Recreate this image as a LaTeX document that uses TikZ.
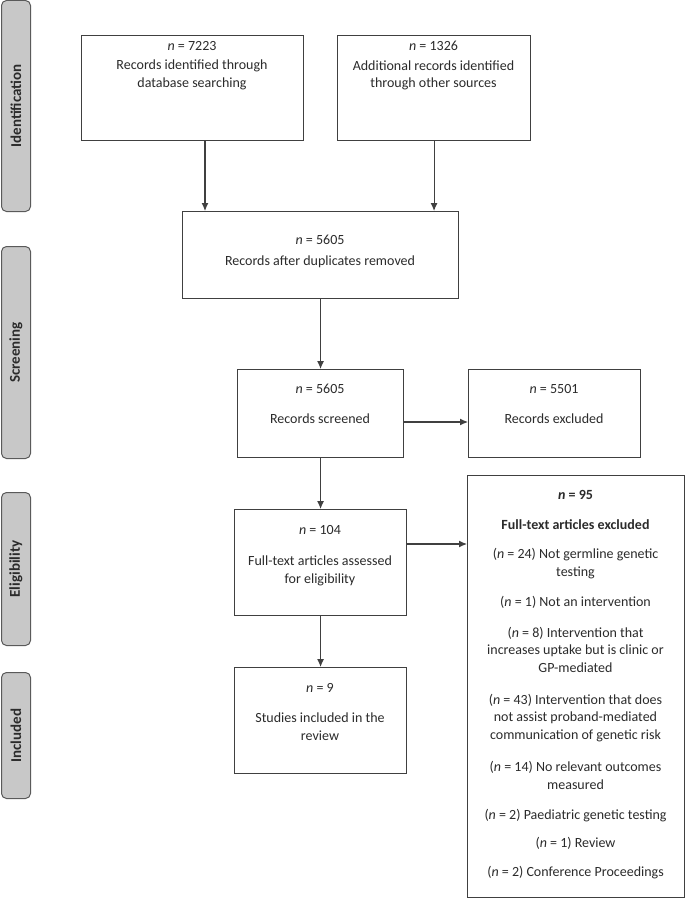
\documentclass[tikz,border=0pt]{standalone}
\usepackage{fontspec}
\setmainfont{Carlito}
\usetikzlibrary{arrows.meta}
\definecolor{linegray}{HTML}{404040}
\definecolor{textgray}{HTML}{2B2B2B}
\definecolor{barfill}{HTML}{C8C8C8}
\definecolor{barline}{HTML}{5A5A5A}
\begin{document}
\begin{tikzpicture}[x=1pt,y=-1pt,
  box/.style={draw=linegray, line width=1.1pt, fill=white, inner sep=0, anchor=north west},
  txt/.style={text=textgray, font=\fontsize{14}{17.5}\selectfont, align=center, inner sep=0, anchor=base},
  bold/.style={txt, font=\fontsize{14}{17.5}\selectfont\bfseries},
  bar/.style={draw=barline, line width=1pt, fill=barfill, rounded corners=5pt, anchor=north west, inner sep=0},
  barlabel/.style={text=textgray, font=\fontsize{15}{17}\selectfont\bfseries, rotate=90, inner sep=0},
  arr/.style={draw=linegray, line width=1.1pt, -{Latex[length=8pt,width=7pt]}}]
\useasboundingbox (0,0) rectangle (685,899);
% phase bars
\node[bar, minimum width=29pt, minimum height=211pt] (pid) at (1,0) {};
\node[barlabel] (lid) at (pid.center) {Identification};
\node[bar, minimum width=29pt, minimum height=212pt] (psc) at (1,246) {};
\node[barlabel] (lsc) at (psc.center) {Screening};
\node[bar, minimum width=29pt, minimum height=153pt] (pel) at (1,492) {};
\node[barlabel] (lel) at (pel.center) {Eligibility};
\node[bar, minimum width=29pt, minimum height=126pt] (pin) at (1,672) {};
\node[barlabel] (lin) at (pin.center) {Included};
% boxes
\node[box, minimum width=222pt, minimum height=105pt] (b1) at (81,35) {};
\node[box, minimum width=193pt, minimum height=105pt] (b2) at (337,35) {};
\node[box, minimum width=276pt, minimum height=87pt] (b3) at (182,211) {};
\node[box, minimum width=166pt, minimum height=88pt] (b4) at (237,369) {};
\node[box, minimum width=172pt, minimum height=88pt] (b5) at (468,369) {};
\node[box, minimum width=172pt, minimum height=106pt] (b6) at (234,509) {};
\node[box, minimum width=172pt, minimum height=106pt] (b7) at (234,667) {};
\node[box, minimum width=217pt, minimum height=422pt] (b8) at (467,475) {};
% texts (anchor = baseline of last line)
\node[txt] (t1a) at (192,51) {\textit{n} = 7223};
\node[txt] (t1b) at (192,87) {Records identified through\\database searching};
\node[txt] (t2a) at (433.5,51) {\textit{n} = 1326};
\node[txt] (t2b) at (433.5,88) {Additional records identified\\through other sources};
\node[txt] (t3a) at (320,244) {\textit{n} = 5605};
\node[txt] (t3b) at (320,265) {Records after duplicates removed};
\node[txt] (t4a) at (320,393) {\textit{n} = 5605};
\node[txt] (t4b) at (320,423) {Records screened};
\node[txt] (t5a) at (554,393) {\textit{n} = 5501};
\node[txt] (t5b) at (554,423) {Records excluded};
\node[txt] (t6a) at (320,534) {\textit{n} = 104};
\node[txt] (t6b) at (320,583) {Full-text articles assessed\\for eligibility};
\node[txt] (t7a) at (320,692) {\textit{n} = 9};
\node[txt] (t7b) at (320,740) {Studies included in the\\review};
\node[bold] (t8a) at (575.5,499) {\textit{n} = 95};
\node[bold] (t8b) at (575.5,529) {Full-text articles excluded};
\node[txt] (t8c) at (575.5,576) {(\textit{n} = 24) Not germline genetic\\testing};
\node[txt] (t8d) at (575.5,606) {(\textit{n} = 1) Not an intervention};
\node[txt] (t8e) at (575.5,672) {(\textit{n} = 8) Intervention that\\increases uptake but is clinic or\\GP-mediated};
\node[txt] (t8f) at (575.5,739) {(\textit{n} = 43) Intervention that does\\not assist proband-mediated\\communication of genetic risk};
\node[txt] (t8g) at (575.5,789) {(\textit{n} = 14) No relevant outcomes\\measured};
\node[txt] (t8h) at (575.5,819) {(\textit{n} = 2) Paediatric genetic testing};
\node[txt] (t8i) at (575.5,847) {(\textit{n} = 1) Review};
\node[txt] (t8j) at (575.5,876) {(\textit{n} = 2) Conference Proceedings};
% connectors
\coordinate (x1) at (205,0);
\coordinate (y45) at (0,422);
\coordinate (y68) at (0,544);
\draw[arr] (b1.south -| x1) -- (b3.north -| x1);
\draw[arr] (b2.south) -- (b2.south |- b3.north);
\draw[arr] (b3.south) -- (b4.north);
\draw[arr] (b4.east |- y45) -- (b5.west |- y45);
\draw[arr] (b4.south) -- (b6.north);
\draw[arr] (b6.east |- y68) -- (b8.west |- y68);
\draw[arr] (b6.south) -- (b7.north);
\end{tikzpicture}
\end{document}
